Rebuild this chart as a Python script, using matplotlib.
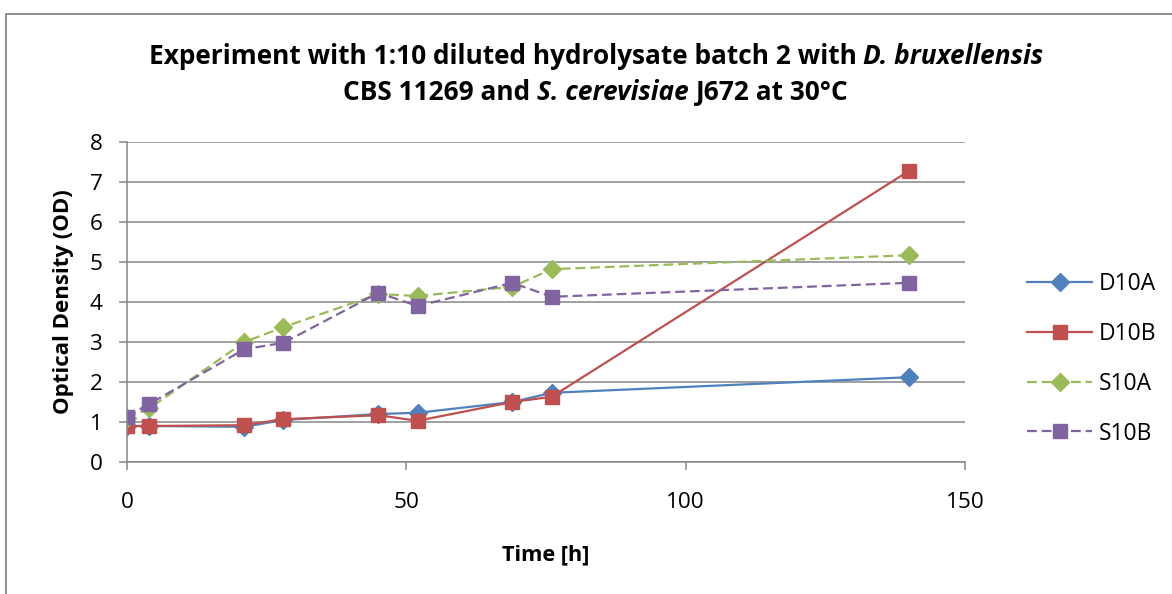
# Growth curves for the 1:10 diluted hydrolysate experiment (batch 2).

import numpy as np
import matplotlib
matplotlib.use('Agg')
import matplotlib.pyplot as plt
from matplotlib.patches import Rectangle

time_h = [0, 4, 21, 28, 45, 52, 69, 76, 140]

d10a = [0.90, 0.90, 0.88, 1.05, 1.20, 1.23, 1.50, 1.73, 2.12]
d10b = [0.90, 0.90, 0.92, 1.07, 1.17, 1.03, 1.50, 1.63, 7.28]
s10a = [1.10, 1.34, 3.00, 3.37, 4.20, 4.15, 4.38, 4.82, 5.17]
s10b = [1.13, 1.45, 2.82, 2.98, 4.23, 3.90, 4.48, 4.13, 4.48]

series_names = ['D10A', 'D10B', 'S10A', 'S10B']
x_ticks = [0, 50, 100, 150]
y_ticks = [0, 1, 2, 3, 4, 5, 6, 7, 8]

FONT = 'Open Sans'
GRID = '#868686'


def rich_line(fig, xc, y, parts, size):
    # place bold segments (some italic) side by side, centred on xc (pixels)
    r = fig.canvas.get_renderer()
    probe = fig.text(0, 0, 'a a', fontsize=size, fontweight='bold', family=FONT)
    probe2 = fig.text(0, 0, 'aa', fontsize=size, fontweight='bold', family=FONT)
    space = probe.get_window_extent(r).width - probe2.get_window_extent(r).width
    probe.remove()
    probe2.remove()

    items = []
    for s, st in parts:
        lead = len(s) - len(s.lstrip(' '))
        trail = len(s) - len(s.rstrip(' '))
        t = fig.text(0, y, s.strip(' '), fontsize=size, fontweight='bold', style=st,
                     family=FONT, ha='left', va='center')
        w = t.get_window_extent(r).width
        items.append((t, lead * space, w, trail * space))
    total = sum(a + b + c for _, a, b, c in items)
    x = xc - total / 2
    W = fig.bbox.width
    for t, a, w, c in items:
        x += a
        t.set_x(x / W)
        x += w + c


fig = plt.figure(figsize=(11.72, 5.94), dpi=100)
fig.patches.append(Rectangle((6 / 1172, -0.1), 1.2, (594 - 14) / 594 + 0.1,
                             transform=fig.transFigure, fill=False,
                             edgecolor=GRID, linewidth=1.3))

ax = fig.add_axes([127 / 1172, 1 - 462 / 594, 838 / 1172, 320 / 594])

lw = 1.6
dash = (4.4, 2.2)
ax.plot(time_h, d10a, color='#4F81BD', lw=lw, marker='D', ms=9, label=series_names[0])
ax.plot(time_h, d10b, color='#C0504D', lw=lw, marker='s', ms=10.5, label=series_names[1])
ax.plot(time_h, s10a, color='#9BBB59', lw=lw, marker='D', ms=9, dashes=dash,
        label=series_names[2])
ax.plot(time_h, s10b, color='#8064A2', lw=lw, marker='s', ms=10.5, dashes=dash,
        label=series_names[3])

ax.set_xlim(0, 150)
ax.set_ylim(0, 8)
ax.set_xticks(x_ticks)
ax.set_yticks(y_ticks)
ax.yaxis.grid(True, color=GRID, lw=1.1)
ax.set_axisbelow(True)
for s in ['top', 'right']:
    ax.spines[s].set_visible(False)
for s in ['left', 'bottom']:
    ax.spines[s].set_color(GRID)
    ax.spines[s].set_linewidth(1.1)
ax.tick_params(axis='y', direction='out', length=5.5, width=1.1, color=GRID,
               pad=12, labelsize=16.2)
ax.tick_params(axis='x', direction='out', length=5.5, width=1.1, color=GRID,
               pad=16, labelsize=16.2)
for lab in ax.get_xticklabels() + ax.get_yticklabels():
    lab.set_family(FONT)

ax.set_xlabel('Time [h]', fontsize=15.7, fontweight='bold', family=FONT, labelpad=22.5)
ax.set_ylabel('Optical Density (OD)', fontsize=16, fontweight='bold', family=FONT,
              labelpad=11)

fig.legend(loc='center left', bbox_to_anchor=(1027 / 1172, 1 - 359 / 594),
           frameon=False, borderpad=0, borderaxespad=0, handlelength=2.85,
           handletextpad=0.3, labelspacing=1.12, prop={'family': FONT, 'size': 16.5})

rich_line(fig, 596, 1 - 57 / 594,
          [('Experiment with 1:10 diluted hydrolysate batch 2 with ', 'normal'),
           ('D. bruxellensis', 'italic')], 18.9)
rich_line(fig, 596, 1 - 92 / 594,
          [('CBS 11269 and ', 'normal'), ('S. cerevisiae', 'italic'),
           (' J672 at 30°C', 'normal')], 18.9)

fig.savefig('out.png', dpi=100)
